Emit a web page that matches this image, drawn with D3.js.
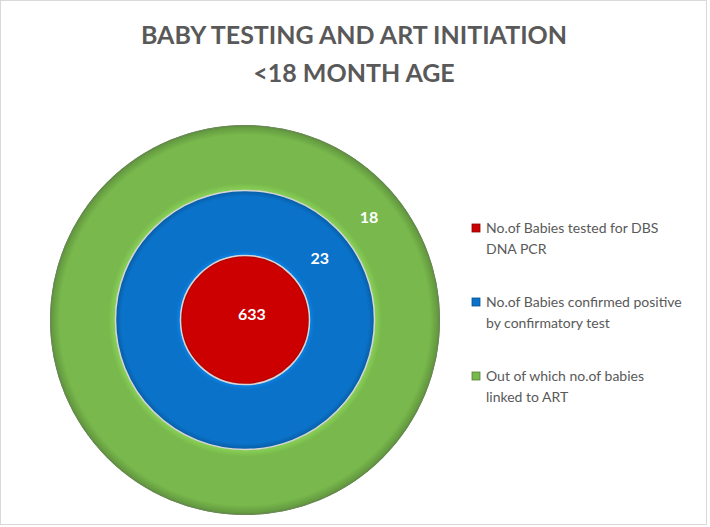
<!DOCTYPE html>
<html>
<head>
  <meta charset="utf-8">
  <title>Baby Testing and ART Initiation</title>
  <style>
    body { margin: 0; background: #fff; }
    text { font-family: Lato, "Open Sans", sans-serif; }
  </style>
</head>
<body>
  <script src="https://cdn.jsdelivr.net/npm/d3@7/dist/d3.min.js"></script>
  <script>
    // data, innermost ring first
    var series = ["No.of Babies tested for DBS DNA PCR",
                  "No.of Babies confirmed positive by confirmatory test",
                  "Out of which no.of babies linked to ART"];
    var values = [633, 23, 18];
    var legendLines = [["No.of Babies tested for DBS", "DNA PCR"],
                       ["No.of Babies confirmed positive", "by confirmatory test"],
                       ["Out of which no.of babies", "linked to ART"]];
    var colors = ["#cc0000", "#0a72c9", "#78b84c"];
    var titleLines = ["BABY TESTING AND ART INITIATION", "<18 MONTH AGE"];

    var w = 710, h = 527;
    var cx = 245, cy = 320;
    var ringWidth = 65;
    var labelAngle = 0.88;   // where excel put the labels

    var svg = d3.select("body").append("svg")
      .attr("width", w)
      .attr("height", h);

    // chart border
    svg.append("rect")
      .attr("x", 0.5).attr("y", 0.5)
      .attr("width", 706).attr("height", 524)
      .attr("fill", "#fff")
      .attr("stroke", "#d9d9d9");

    // title
    svg.append("g").selectAll("text")
      .data(titleLines)
      .enter().append("text")
      .attr("x", 354)
      .attr("y", function(d, i) { return 44 + i * 38; })
      .attr("text-anchor", "middle")
      .attr("font-size", 25)
      .attr("font-weight", "bold")
      .attr("fill", "#595959")
      .text(function(d) { return d; });

    // radius scale: ring index -> inner radius
    var r = d3.scaleLinear().domain([0, 1]).range([0, ringWidth]);

    // bevel look, gradient centred on the chart group origin
    var defs = svg.append("defs");
    colors.forEach(function(c, i) {
      var inner = r(i), outer = r(i + 1);
      var g = defs.append("radialGradient")
        .attr("id", "bevel" + i)
        .attr("gradientUnits", "userSpaceOnUse")
        .attr("cx", 0).attr("cy", 0).attr("r", outer);
      var base = d3.color(c);
      var f = inner / outer;
      var stops = [
        [0, base.brighter(0.35)],
        [f, base.brighter(0.35)],
        [f + 0.035, base],
        [1 - 0.05, base],
        [1 - 0.01, base.darker(0.5)],
        [1, base.darker(1)]
      ];
      if (i == 0) stops = stops.slice(2);
      stops.forEach(function(s) {
        g.append("stop").attr("offset", s[0]).attr("stop-color", s[1]);
      });
    });

    var arc = d3.arc()
      .innerRadius(function(d) { return r(d.ring); })
      .outerRadius(function(d) { return r(d.ring + 1); })
      .startAngle(0)
      .endAngle(2 * Math.PI);

    var rings = values.map(function(v, i) { return { ring: i, value: v, name: series[i] }; });

    var chart = svg.append("g")
      .attr("transform", "translate(" + cx + "," + cy + ")");

    chart.selectAll("path.ring")
      .data(rings)
      .enter().append("path")
      .attr("class", "ring")
      .attr("d", arc)
      .attr("fill", function(d, i) { return "url(#bevel" + i + ")"; });

    // light separating line between the rings
    chart.selectAll("circle.sep")
      .data(rings)
      .enter().append("circle")
      .attr("class", "sep")
      .attr("r", function(d) { return r(d.ring + 1) - 0.5; })
      .attr("fill", "none")
      .attr("stroke", function(d) { return d.ring == 2 ? "#6d8a5a" : "#d6d6d6"; })
      .attr("stroke-width", function(d) { return d.ring == 2 ? 1 : 1.5; });

    // data labels
    var labelR = [9, 97, 161];
    chart.selectAll("text.lbl")
      .data(rings)
      .enter().append("text")
      .attr("class", "lbl")
      .attr("x", function(d) { return labelR[d.ring] * Math.sin(labelAngle); })
      .attr("y", function(d) { return -labelR[d.ring] * Math.cos(labelAngle); })
      .attr("dy", "0.35em")
      .attr("text-anchor", "middle")
      .attr("font-size", 16)
      .attr("font-weight", "bold")
      .attr("fill", "#fff")
      .text(function(d) { return d.value; });

    // legend
    var legend = svg.append("g")
      .attr("transform", "translate(472,228)");

    var item = legend.selectAll("g")
      .data(legendLines)
      .enter().append("g")
      .attr("transform", function(d, i) { return "translate(0," + (i * 74) + ")"; });

    item.append("rect")
      .attr("x", 0).attr("y", -4)
      .attr("width", 8).attr("height", 8)
      .attr("fill", function(d, i) { return colors[i]; })
      .attr("stroke", function(d, i) { return d3.color(colors[i]).darker(1); })
      .attr("stroke-width", 0.8);

    item.selectAll("text")
      .data(function(d) { return d; })
      .enter().append("text")
      .attr("x", 14)
      .attr("y", function(d, j) { return j * 21; })
      .attr("dy", "0.35em")
      .attr("font-size", 14)
      .attr("fill", "#595959")
      .text(function(d) { return d; });
  </script>
</body>
</html>
